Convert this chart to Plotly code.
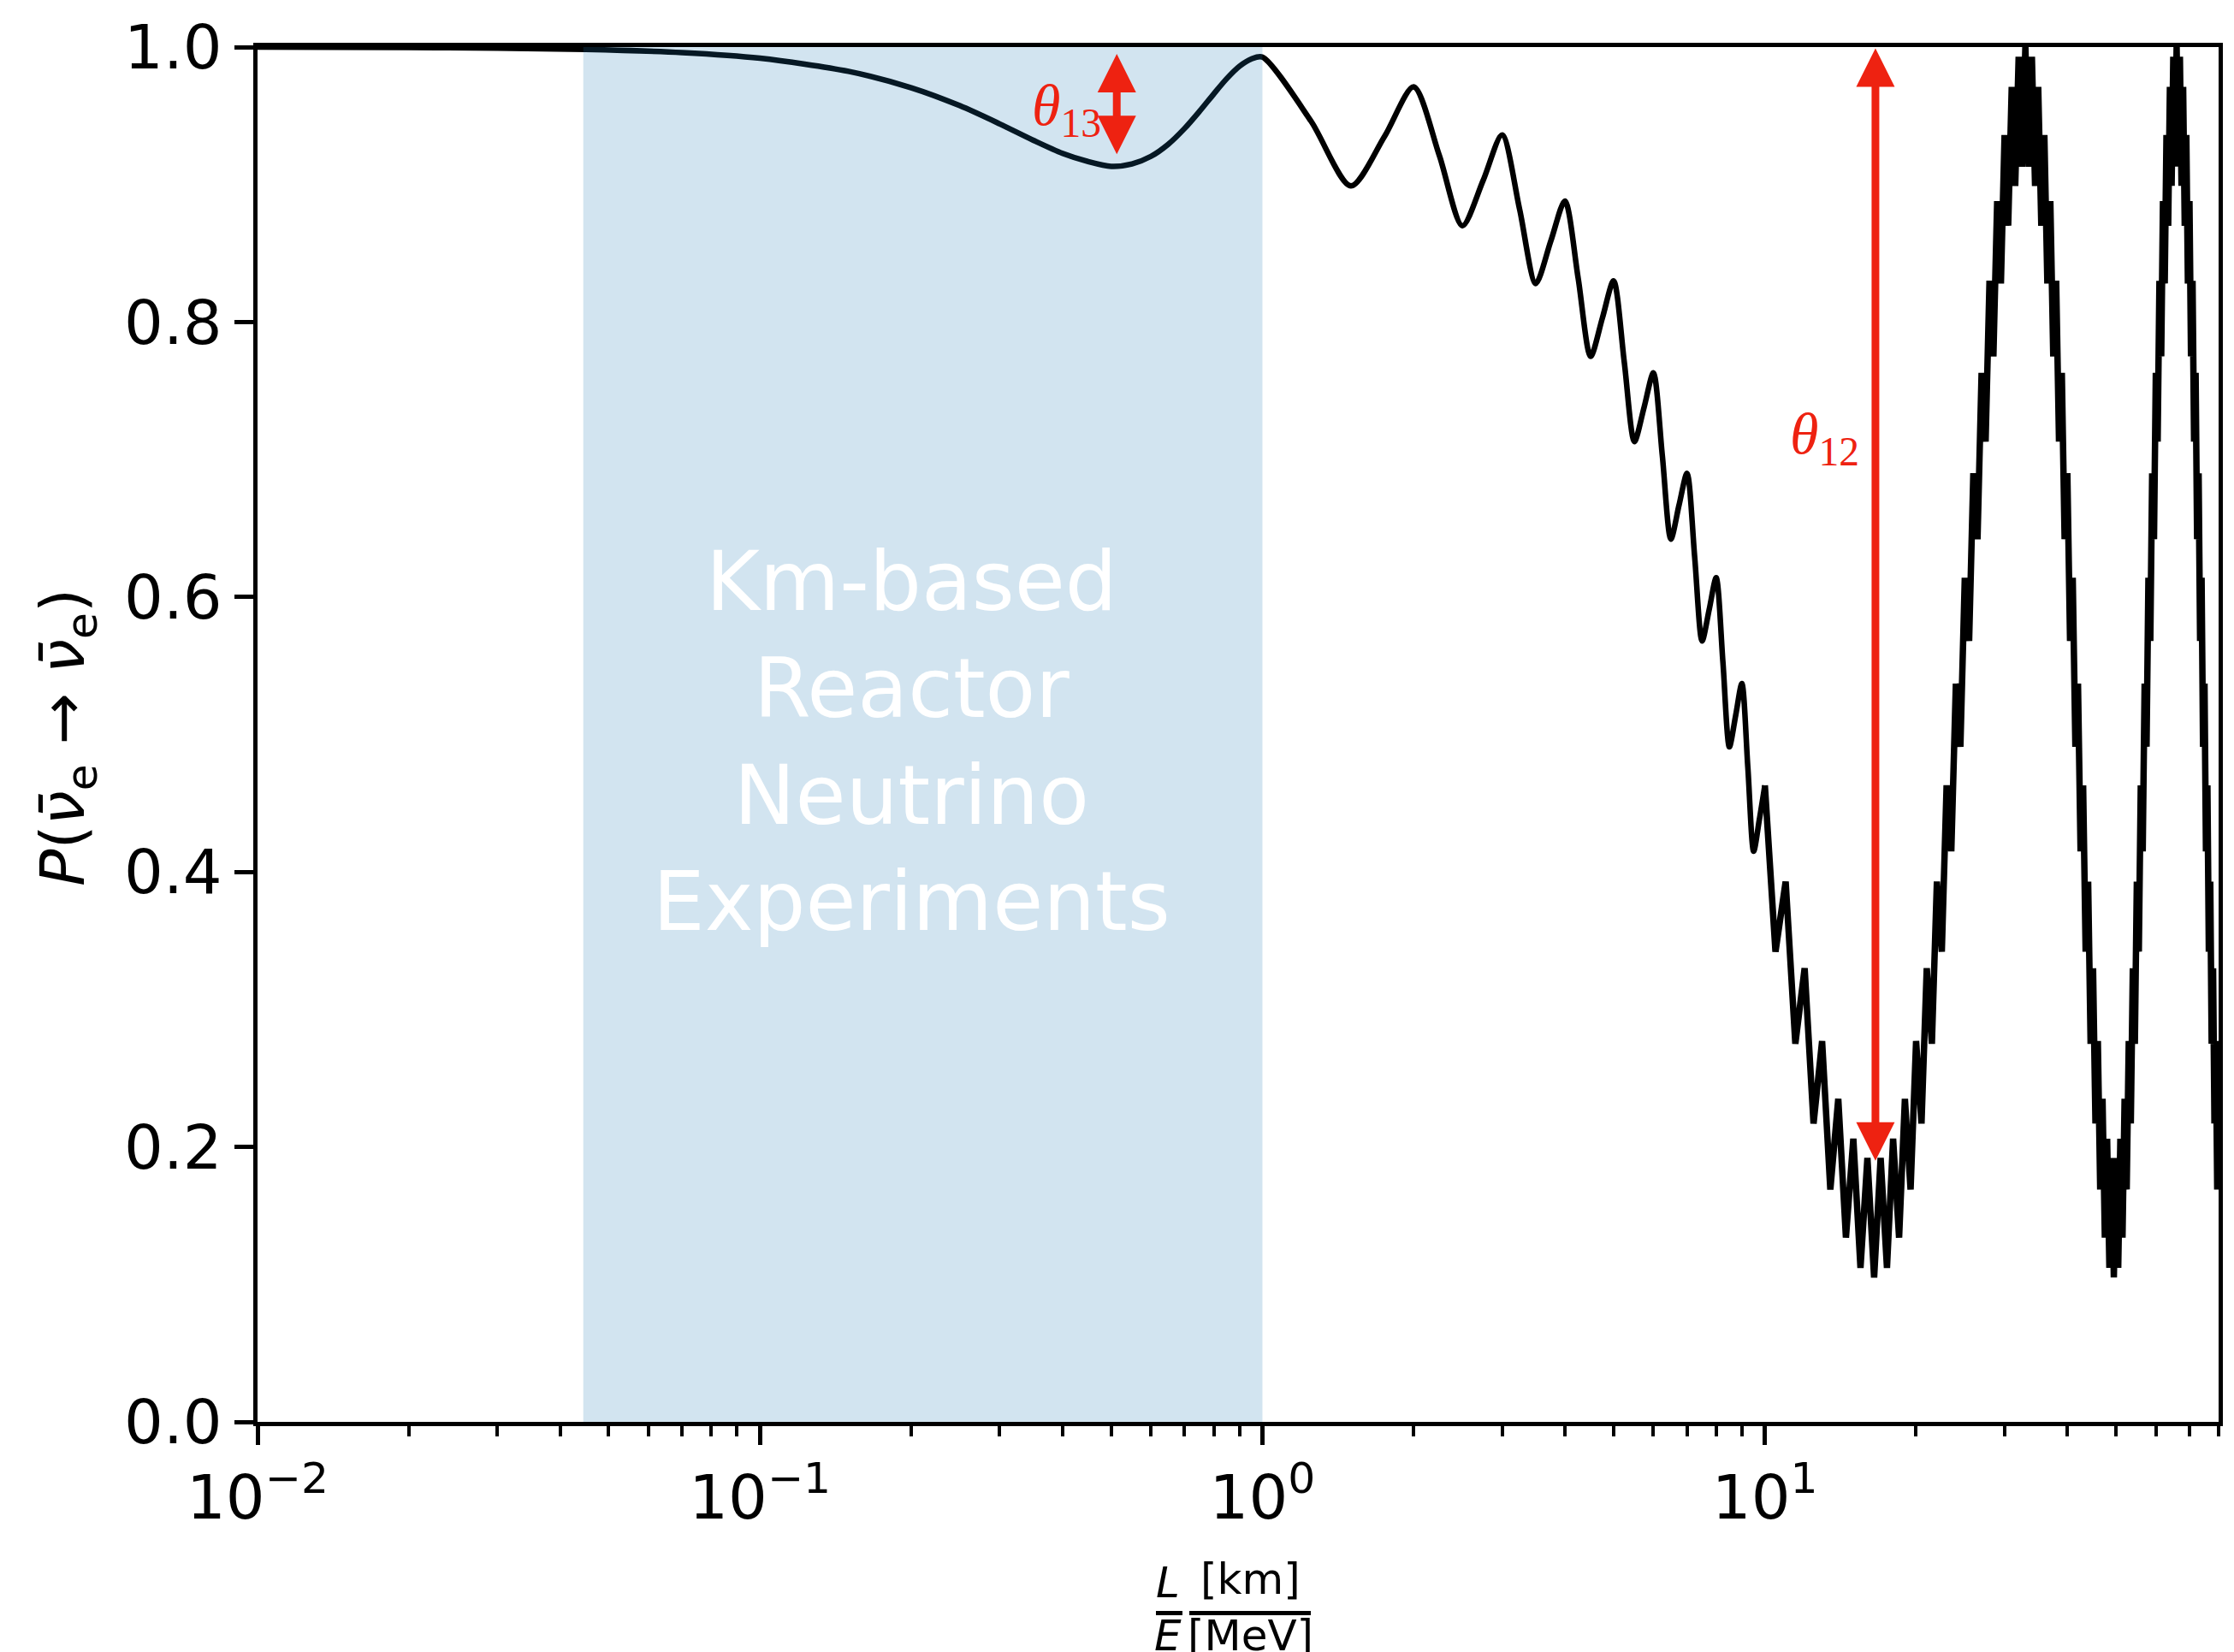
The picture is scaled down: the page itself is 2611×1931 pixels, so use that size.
import numpy as np
import plotly.graph_objects as go

# ---------------- data ----------------
# smooth part of the survival probability (resolved oscillations)
x_smooth = [0.01, 0.02, 0.03, 0.045, 0.07, 0.1, 0.15, 0.2, 0.25, 0.3, 0.35, 0.4, 0.45, 0.5,
            0.55, 0.6, 0.65, 0.7, 0.75, 0.8, 0.85, 0.9, 0.95, 1.0,
            1.25, 1.5, 1.75, 2.0, 2.25, 2.5, 2.75, 3.0, 3.25, 3.5, 3.75, 4.0,
            4.25, 4.5, 4.75, 5.0, 5.25, 5.5, 5.75, 6.0, 6.25, 6.5, 6.75, 7.0,
            7.25, 7.5, 7.75, 8.0, 8.25, 8.5, 8.75, 9.0, 9.25, 9.5, 9.75, 10.0]
p_smooth = [1.000, 0.9997, 0.9992, 0.9983, 0.9960, 0.9919, 0.9823, 0.9704, 0.9573, 0.9441, 0.9322, 0.9227, 0.9167, 0.9132,
            0.915, 0.9205, 0.9294, 0.9408, 0.9534, 0.9659, 0.9772, 0.986, 0.9913, 0.9927,
            0.946, 0.899, 0.935, 0.971, 0.921, 0.870, 0.903, 0.936, 0.882, 0.828, 0.859, 0.888,
            0.832, 0.775, 0.803, 0.830, 0.771, 0.713, 0.738, 0.763, 0.703, 0.642, 0.667, 0.690,
            0.629, 0.568, 0.591, 0.614, 0.553, 0.491, 0.514, 0.537, 0.476, 0.415, 0.438, 0.463]

# fast oscillation region: peaks (integers) and troughs (half integers)
x_osc = [10.0, 10.5, 11.0, 11.5, 12.0, 12.5, 13.0, 13.5, 14.0, 14.5, 15.0, 15.5, 16.0, 16.5, 17.0, 17.5,
         18.0, 18.5, 19.0, 19.5, 20.0, 20.5, 21.0, 21.5, 22.0, 22.5, 23.0, 23.5, 24.0, 24.5, 25.0, 25.5,
         26.0, 26.5, 27.0, 27.5, 28.0, 28.5, 29.0, 29.5, 30.0, 30.5, 31.0, 31.5, 32.0, 32.5, 33.0, 33.5,
         34.0, 34.5, 35.0, 35.5, 36.0, 36.5, 37.0, 37.5, 38.0, 38.5, 39.0, 39.5, 40.0, 40.5, 41.0, 41.5,
         42.0, 42.5, 43.0, 43.5, 44.0, 44.5, 45.0, 45.5, 46.0, 46.5, 47.0, 47.5, 48.0, 48.5, 49.0, 49.5,
         50.0, 50.5, 51.0, 51.5, 52.0, 52.5, 53.0, 53.5, 54.0, 54.5, 55.0, 55.5, 56.0, 56.5, 57.0, 57.5,
         58.0, 58.5, 59.0, 59.5, 60.0, 60.5, 61.0, 61.5, 62.0, 62.5, 63.0, 63.5, 64.0, 64.5, 65.0, 65.5,
         66.0, 66.5, 67.0, 67.5, 68.0, 68.5, 69.0, 69.5, 70.0, 70.5, 71.0, 71.5, 72.0, 72.5, 73.0, 73.5,
         74.0, 74.5, 75.0, 75.5, 76.0, 76.5, 77.0, 77.5, 78.0, 78.5, 79.0, 79.5, 80.0]
p_osc = [0.463, 0.342, 0.393, 0.275, 0.330, 0.217, 0.277, 0.169, 0.235, 0.134, 0.206, 0.112, 0.192, 0.105, 0.192, 0.112,
         0.206, 0.134, 0.235, 0.169, 0.277, 0.217, 0.330, 0.275, 0.393, 0.342, 0.463, 0.415, 0.537, 0.491, 0.614, 0.568,
         0.690, 0.642, 0.763, 0.713, 0.830, 0.775, 0.888, 0.828, 0.936, 0.870, 0.971, 0.899, 0.993, 0.913, 1.000, 0.913,
         0.993, 0.899, 0.971, 0.870, 0.936, 0.828, 0.888, 0.775, 0.830, 0.713, 0.763, 0.642, 0.690, 0.568, 0.614, 0.491,
         0.537, 0.415, 0.463, 0.342, 0.393, 0.275, 0.330, 0.217, 0.277, 0.169, 0.235, 0.134, 0.206, 0.112, 0.192, 0.105,
         0.192, 0.112, 0.206, 0.134, 0.235, 0.169, 0.277, 0.217, 0.330, 0.275, 0.393, 0.342, 0.463, 0.415, 0.537, 0.491,
         0.614, 0.568, 0.690, 0.642, 0.763, 0.713, 0.830, 0.775, 0.888, 0.828, 0.936, 0.870, 0.971, 0.899, 0.993, 0.913,
         1.000, 0.913, 0.993, 0.899, 0.971, 0.870, 0.936, 0.828, 0.888, 0.775, 0.830, 0.713, 0.763, 0.642, 0.690, 0.568,
         0.614, 0.491, 0.537, 0.415, 0.463, 0.342, 0.393, 0.275, 0.330, 0.217, 0.277, 0.169, 0.235]

# shaded "km-based reactor experiments" band
band_lo, band_hi = 0.0445, 1.0
band_text = "Km-based<br>Reactor<br>Neutrino<br>Experiments"
band_text_pos = (0.2, 0.495)

# theta arrows: (L/E position, bottom tip, top tip)
theta13_arrow = (0.513, 0.922, 0.996)
theta12_arrow = (16.6, 0.19, 1.0)
theta13_label = (0.408, 0.955)
theta12_label = (13.17, 0.716)

x_range = (0.01, 80)
x_major = [0.01, 0.1, 1, 10]
x_major_text = ["10<sup>−2</sup>", "10<sup>−1</sup>", "10<sup>0</sup>", "10<sup>1</sup>"]
x_minor = [0.02, 0.03, 0.04, 0.05, 0.06, 0.07, 0.08, 0.09,
           0.2, 0.3, 0.4, 0.5, 0.6, 0.7, 0.8, 0.9,
           2, 3, 4, 5, 6, 7, 8, 9,
           20, 30, 40, 50, 60, 70, 80]
y_ticks = [0.0, 0.2, 0.4, 0.6, 0.8, 1.0]
y_tick_text = ["0.0", "0.2", "0.4", "0.6", "0.8", "1.0"]

RED = "#ee2211"
FONT = "DejaVu Sans"
W, H = 2611, 1931
L_M, R_M, T_M, B_M = 301, 18, 55, 269
PW, PH = W - L_M - R_M, H - T_M - B_M


def px_to_paper_x(px):
    return (px - L_M) / PW


def px_to_paper_y(py):
    return (H - B_M - py) / PH


fig = go.Figure()
fig.add_trace(go.Scatter(x=x_smooth, y=p_smooth, mode="lines",
                         line=dict(color="black", width=6.5, shape="spline", smoothing=0.8),
                         showlegend=False, hoverinfo="skip"))
fig.add_trace(go.Scatter(x=x_osc, y=p_osc, mode="lines",
                         line=dict(color="black", width=7.5),
                         showlegend=False, hoverinfo="skip"))
fig.add_trace(go.Scatter(x=[band_lo, band_lo, band_hi, band_hi, band_lo], y=[0, 1, 1, 0, 0],
                         mode="lines", fill="toself", fillcolor="rgba(31,119,180,0.2)",
                         line=dict(width=0), showlegend=False, hoverinfo="skip"))

annotations = []
# band label
annotations.append(dict(x=np.log10(band_text_pos[0]), y=band_text_pos[1], xref="x", yref="y",
                        text=band_text, showarrow=False, align="center",
                        font=dict(family=FONT, size=96, color="white"),
                        xanchor="center", yanchor="middle"))
# arrows
for (xa, ylo, yhi) in (theta13_arrow, theta12_arrow):
    lx = np.log10(xa)
    annotations.append(dict(x=lx, y=ylo, ax=lx, ay=yhi, xref="x", yref="y", axref="x", ayref="y",
                            text="", showarrow=True, arrowhead=2, startarrowhead=2,
                            arrowside="end+start", arrowsize=1, startarrowsize=1,
                            arrowwidth=9, arrowcolor=RED, standoff=0, startstandoff=0))
# theta labels
for (xl, yl, sub) in ((theta13_label[0], theta13_label[1], "13"), (theta12_label[0], theta12_label[1], "12")):
    annotations.append(dict(x=np.log10(xl), y=yl, xref="x", yref="y",
                            text="<i>θ</i><sub>" + sub + "</sub>", showarrow=False,
                            font=dict(family="Liberation Serif", size=68, color=RED),
                            xanchor="center", yanchor="middle"))
# y-axis title
annotations.append(dict(x=px_to_paper_x(78), y=px_to_paper_y(862), xref="paper", yref="paper",
                        text="<i>P</i>(<i>ν̄</i><sub>e</sub> → <i>ν̄</i><sub>e</sub>)",
                        textangle=-90, showarrow=False, xanchor="center", yanchor="middle",
                        font=dict(family=FONT, size=72, color="black")))
# x-axis title as a stacked fraction  L/E  [km]/[MeV]
frac_font = dict(family=FONT, size=50, color="black")
annotations.append(dict(x=px_to_paper_x(1365), y=px_to_paper_y(1850), xref="paper", yref="paper",
                        text="<i>L</i>", showarrow=False, xanchor="center", yanchor="middle", font=frac_font))
annotations.append(dict(x=px_to_paper_x(1461), y=px_to_paper_y(1846), xref="paper", yref="paper",
                        text="[km]", showarrow=False, xanchor="center", yanchor="middle", font=frac_font))
annotations.append(dict(x=px_to_paper_x(1365), y=px_to_paper_y(1912), xref="paper", yref="paper",
                        text="<i>E</i>", showarrow=False, xanchor="center", yanchor="middle", font=frac_font))
annotations.append(dict(x=px_to_paper_x(1461), y=px_to_paper_y(1912), xref="paper", yref="paper",
                        text="[MeV]", showarrow=False, xanchor="center", yanchor="middle", font=frac_font))

shapes = [
    dict(type="line", xref="paper", yref="paper", x0=px_to_paper_x(1351), x1=px_to_paper_x(1382),
         y0=px_to_paper_y(1885.5), y1=px_to_paper_y(1885.5), line=dict(color="black", width=5)),
    dict(type="line", xref="paper", yref="paper", x0=px_to_paper_x(1390), x1=px_to_paper_x(1532),
         y0=px_to_paper_y(1885.5), y1=px_to_paper_y(1885.5), line=dict(color="black", width=5)),
]

axis_common = dict(showline=True, linecolor="black", linewidth=5, mirror=True,
                   ticks="outside", ticklen=22, tickwidth=5, tickcolor="black",
                   showgrid=False, zeroline=False,
                   tickfont=dict(family=FONT, size=72, color="black"))

fig.update_layout(
    width=W, height=H, autosize=False,
    margin=dict(l=L_M, r=R_M, t=T_M, b=B_M, pad=0),
    paper_bgcolor="white", plot_bgcolor="white",
    xaxis=dict(type="log", range=[np.log10(x_range[0]), np.log10(x_range[1])],
               tickmode="array", tickvals=x_major, ticktext=x_major_text,
               minor=dict(ticks="outside", ticklen=12, tickwidth=3.5, tickcolor="black",
                          tickvals=x_minor, showgrid=False),
               **axis_common),
    yaxis=dict(range=[0, 1], tickmode="array", tickvals=y_ticks, ticktext=y_tick_text,
               **axis_common),
    annotations=annotations,
    shapes=shapes,
    showlegend=False,
)

fig.write_html("out.html")
